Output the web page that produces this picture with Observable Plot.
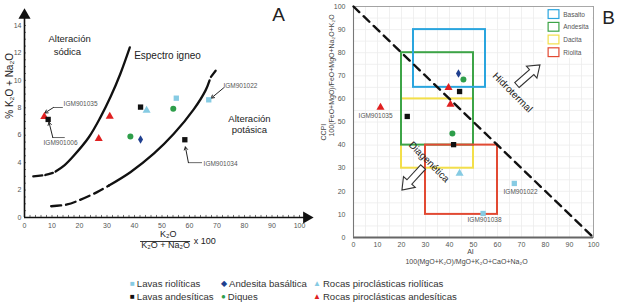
<!DOCTYPE html>
<html><head><meta charset="utf-8">
<script src="https://cdn.jsdelivr.net/npm/d3@7"></script>
<script src="https://cdn.jsdelivr.net/npm/@observablehq/plot@0.6"></script>
<style>
body{margin:0;background:#fff;font-family:"Liberation Sans",Arial,sans-serif;}
#wrap{position:relative;width:624px;height:304px;overflow:hidden;background:#fff;}
#a{position:absolute;left:0;top:0;}
#b{position:absolute;left:312px;top:0;}
.lg{position:absolute;font-size:9.6px;line-height:12px;color:#333;white-space:nowrap;}
.lg i{font-style:normal;font-size:8px;margin-right:2px;position:relative;top:-1px;}
</style></head>
<body><div id="wrap"><div id="a"></div><div id="b"></div>
<div id="legend"></div></div>
<script>
// ---------- shared categories ----------
const types = ["Lavas riolíticas","Andesita basáltica","Rocas piroclásticas riolíticas","Lavas andesíticas","Diques","Rocas piroclásticas andesíticas"];
const typeColor = ["#86cbe3","#1f3f8f","#86cbe3","#111111","#2e9e4a","#e02020"];
const typeSymbol = ["square","diamond","triangle","square","circle","triangle"];
const typeChar = ["■","◆","▲","■","●","▲"];

// ---------- panel A data ----------
const aRatio = [7.2, 8.6, 31.0, 27.0, 42.2, 44.4, 55.2, 54.1, 38.5, 42.2, 67.0, 58.3];
const aAlk   = [7.35, 7.15, 7.37, 5.74, 8.05, 7.8, 8.7, 7.93, 5.9, 5.69, 8.58, 5.67];
const aType  = [5, 3, 5, 5, 3, 2, 0, 4, 4, 1, 0, 3];
const xTicksA = [0,10,20,30,40,50,60,70,80,90,100];
const yTicksA = [0,2,4,6,8,10,12,14];
// boundary curves
const sodicDashX = [3.2, 7.6, 10.3];
const sodicDashY = [3.0, 3.1, 3.25];
const sodicX = [11.3, 14.5, 17.9, 23.4, 27.6, 31.3, 34.9, 38.3];
const sodicY = [3.35, 3.8, 4.5, 5.85, 7.3, 8.8, 10.5, 12.4];
const potDashX = [9.7, 13.1, 15.5, 19.7, 26.4, 30.7];
const potDashY = [0.82, 0.88, 0.95, 1.24, 1.85, 2.33];
const potX = [30.7, 38.5, 47.0, 54.3, 61.6, 65.8, 67.3];
const potY = [2.33, 3.3, 4.65, 6.1, 7.9, 9.25, 10.0];
const potTopX = [67.8, 69.5];
const potTopY = [10.25, 10.7];
// sample callouts
const aLabels = ["IGM901035","IGM901006","IGM901022","IGM901034"];

// ---------- panel B data ----------
const bAI   = [11.25, 43.75, 45.8, 39.6, 44.2, 40.4, 22.4, 41.2, 41.7, 44.2, 67.0, 54.0];
const bCCPI = [56.3, 71.0, 68.4, 64.9, 63.2, 57.6, 52.4, 45.0, 40.2, 27.7, 23.4, 10.4];
const bType = [5, 1, 4, 5, 3, 5, 3, 4, 3, 2, 0, 0];
const rocks = ["Basalto","Andesita","Dacita","Riolita"];
const rockColor = ["#2aa5de","#3da447","#f3df4a","#e24a33"];
const rockX1 = [25, 20, 20, 30], rockX2 = [55, 50, 50, 60];
const rockY1 = [65, 40, 30, 10], rockY2 = [90, 80, 60, 40];
const bLabels = ["IGM901035","IGM901022","IGM901038"];
const ticksB = [0,10,20,30,40,50,60,70,80,90,100];

const font = "'Liberation Sans', Arial, sans-serif";
const idx = n => d3.range(n);

function hollowArrow(x1, y1, x2, y2, sw, hw, hl) {
  return (index, scales) => {
    const X1 = scales.x(x1), Y1 = scales.y(y1), X2 = scales.x(x2), Y2 = scales.y(y2);
    const dx = X2 - X1, dy = Y2 - Y1, L = Math.hypot(dx, dy);
    const ux = dx / L, uy = dy / L, nx = -uy, ny = ux;
    const bx = X2 - ux * hl, by = Y2 - uy * hl;
    const p = [[X1+nx*sw,Y1+ny*sw],[bx+nx*sw,by+ny*sw],[bx+nx*hw,by+ny*hw],[X2,Y2],
               [bx-nx*hw,by-ny*hw],[bx-nx*sw,by-ny*sw],[X1-nx*sw,Y1-ny*sw]];
    return d3.create("svg:path").attr("d","M"+p.map(q=>q.join(",")).join("L")+"Z")
      .attr("fill","#fff").attr("stroke","#333").attr("stroke-width",1.1).node();
  };
}

// ---------- Panel A ----------
const A = Plot.plot({
  width: 312, height: 262, marginLeft: 24, marginRight: 13, marginTop: 25, marginBottom: 45,
  x: {domain: [0, 100], axis: null},
  y: {domain: [0, 14], axis: null},
  style: {fontFamily: font, background: "transparent", overflow: "visible"},
  marks: [
    Plot.ruleX(d3.range(0, 101, 2), {y1: 0, y2: 0.15, stroke: "#333", strokeWidth: 0.7}),
    Plot.ruleY(d3.range(0, 14.01, 0.5), {x1: 0, x2: 0.7, stroke: "#333", strokeWidth: 0.7}),
    Plot.ruleY([0], {x1: 0, x2: 103, stroke: "#111", strokeWidth: 1.6}),
    Plot.ruleX([0], {y1: 0, y2: 14.6, stroke: "#111", strokeWidth: 1.6}),
    Plot.dot([0], {x: 102.6, y: 0, symbol: "triangle", r: 4.5, fill: "#111", rotate: 90}),
    Plot.dot([0], {x: 0, y: 14.75, symbol: "triangle", r: 4.5, fill: "#111"}),
    Plot.text(xTicksA, {x: d => d, frameAnchor: "bottom", dy: 10, fontSize: 7, fill: "#555"}),
    Plot.text(yTicksA, {y: d => d, frameAnchor: "left", dx: -3, textAnchor: "end", fontSize: 7, fill: "#555"}),
    Plot.text(["% K₂O + Na₂O"], {frameAnchor: "left", y: 7.2, dx: -15, rotate: -90, fontSize: 10, fill: "#222"}),
    Plot.text(["K₂O"], {x: 52.3, frameAnchor: "bottom", dy: 19, fontSize: 9, fill: "#222"}),
    Plot.ruleY([-1.75], {x1: 42.2, x2: 60.4, stroke: "#222", strokeWidth: 0.9}),
    Plot.text(["K₂O + Na₂O"], {x: 51.3, frameAnchor: "bottom", dy: 30, fontSize: 9, fill: "#222"}),
    Plot.text(["x 100"], {x: 61.5, frameAnchor: "bottom", dy: 26, textAnchor: "start", fontSize: 9, fill: "#222"}),
    Plot.line(idx(sodicDashX.length), {x: i => sodicDashX[i], y: i => sodicDashY[i], stroke: "#111", strokeWidth: 2.3, strokeDasharray: "9,3", curve: "catmull-rom"}),
    Plot.line(idx(sodicX.length), {x: i => sodicX[i], y: i => sodicY[i], stroke: "#111", strokeWidth: 2.3, curve: "catmull-rom"}),
    Plot.line(idx(potDashX.length), {x: i => potDashX[i], y: i => potDashY[i], stroke: "#111", strokeWidth: 2.3, strokeDasharray: "10,5", curve: "catmull-rom"}),
    Plot.line(idx(potX.length), {x: i => potX[i], y: i => potY[i], stroke: "#111", strokeWidth: 2.3, curve: "catmull-rom"}),
    Plot.line(idx(potTopX.length), {x: i => potTopX[i], y: i => potTopY[i], stroke: "#111", strokeWidth: 2.3}),
    Plot.text(["Alteración"], {x: 16.4, y: 13.0, fontSize: 9.5, fill: "#222"}),
    Plot.text(["sódica"], {x: 15.6, y: 12.1, fontSize: 9.5, fill: "#222"}),
    Plot.text(["Espectro igneo"], {x: 52, y: 11.8, fontSize: 10, fill: "#222"}),
    Plot.text(["Alteración"], {x: 81.8, y: 7.2, fontSize: 9.5, fill: "#222"}),
    Plot.text(["potásica"], {x: 81.8, y: 6.4, fontSize: 9.5, fill: "#222"}),
    Plot.text(["A"], {x: 92.4, y: 14.75, fontSize: 19, fill: "#222"}),
    Plot.line([[13.8,8.02],[10.5,8.02]], {stroke: "#444", strokeWidth: 0.8}),
    Plot.arrow([0], {x1: 10.5, y1: 8.02, x2: 7.4, y2: 7.62, stroke: "#222", strokeWidth: 1, headLength: 5}),
    Plot.line([[14.5,5.83],[10.3,5.83]], {stroke: "#444", strokeWidth: 0.8}),
    Plot.arrow([0], {x1: 10.3, y1: 5.83, x2: 8.9, y2: 6.95, stroke: "#222", strokeWidth: 1, headLength: 5}),
    Plot.arrow([0], {x1: 72.4, y1: 9.45, x2: 67.9, y2: 8.7, stroke: "#222", strokeWidth: 1, headLength: 5}),
    Plot.line([[64.4,4.0],[59.6,4.0]], {stroke: "#444", strokeWidth: 0.8}),
    Plot.arrow([0], {x1: 59.6, y1: 4.0, x2: 58.5, y2: 5.15, stroke: "#222", strokeWidth: 1, headLength: 5}),
    Plot.text(aLabels, {x: [20.4, 13.1, 78.5, 71.3], y: [8.31, 5.47, 9.63, 3.94], fontSize: 6.5, fill: "#555"}),
    Plot.dot(idx(aRatio.length), {x: i => aRatio[i], y: i => aAlk[i], symbol: i => typeSymbol[aType[i]], fill: i => typeColor[aType[i]], r: i => aType[i] === 1 ? 2.6 : 3.4}),
  ]
});
document.getElementById("a").appendChild(A);

// ---------- Panel B ----------
const B = Plot.plot({
  width: 312, height: 276, marginLeft: 41, marginRight: 31, marginTop: 6, marginBottom: 39,
  x: {domain: [0, 100], axis: null},
  y: {domain: [0, 100], axis: null},
  style: {fontFamily: font, background: "transparent", overflow: "visible"},
  marks: [
    Plot.ruleX(d3.range(5, 100, 5), {stroke: "#ececec", strokeWidth: 0.8}),
    Plot.ruleY(d3.range(5, 100, 5), {stroke: "#ececec", strokeWidth: 0.8}),
    Plot.frame({stroke: "#9a9a9a", strokeWidth: 0.9}),
    Plot.ruleY([0], {stroke: "#666", strokeWidth: 1.8}),
    Plot.ruleX([0], {stroke: "#777", strokeWidth: 1.1}),
    Plot.text(ticksB, {x: d => d, frameAnchor: "bottom", dy: 9, fontSize: 7, fill: "#555"}),
    Plot.text(ticksB, {y: d => d, frameAnchor: "left", dx: -8, textAnchor: "end", fontSize: 7, fill: "#555"}),
    Plot.text(["AI"], {x: 48.75, frameAnchor: "bottom", dy: 16, fontSize: 7, fill: "#444"}),
    Plot.text(["100(MgO+K₂O)/MgO+K₂O+CaO+Na₂O"], {x: 47.1, frameAnchor: "bottom", dy: 26, fontSize: 7, fill: "#444"}),
    Plot.text(["CCPI"], {y: 42, frameAnchor: "left", dx: -30, rotate: -90, fontSize: 7, fill: "#444"}),
    Plot.text(["100(FeO+MgO)/FeO+MgO+Na₂O+K₂O"], {y: 43.7, frameAnchor: "left", dx: -22, rotate: -90, fontSize: 7, fill: "#444"}),
    Plot.rect([2, 1, 3, 0], {x1: i => rockX1[i], x2: i => rockX2[i], y1: i => rockY1[i], y2: i => rockY2[i], fill: "none", stroke: i => rockColor[i], strokeWidth: 2}),
    Plot.line([[0,100],[100,0]], {stroke: "#111", strokeWidth: 2.4, strokeDasharray: "8,6"}),
    hollowArrow(68.3, 65.8, 77.9, 74.5, 3.3, 8, 11),
    hollowArrow(29.2, 30.3, 20.4, 20.3, 3.3, 8, 11),
    Plot.text(["Hidrotermal"], {x: 66.25, y: 62.8, rotate: 45, fontSize: 10, fill: "#222"}),
    Plot.text(["Diagenética"], {x: 31.5, y: 32.7, rotate: 45, fontSize: 10, fill: "#222"}),
    Plot.rect([0], {x1: 79.3, x2: 99.6, y1: 77.6, y2: 99.6, fill: "#fff"}),
    Plot.rect(idx(rocks.length), {x1: 81.3, x2: 85.8, y1: i => 96.5 - i*5.5 - 1.9, y2: i => 96.5 - i*5.5 + 1.9, fill: "#fff", stroke: i => rockColor[i], strokeWidth: 1.2}),
    Plot.text(rocks, {x: 87.4, y: (d, i) => 96.5 - i*5.5, textAnchor: "start", fontSize: 6.5, fill: "#555"}),
    Plot.text(["B"], {x: 106.3, y: 95.2, fontSize: 19, fill: "#222"}),
    Plot.dot(idx(bAI.length), {x: i => bAI[i], y: i => bCCPI[i], symbol: i => typeSymbol[bType[i]], fill: i => typeColor[bType[i]], r: i => bType[i] === 1 ? 2.4 : 3.1}),
    Plot.text(bLabels, {x: [9.2, 69.6, 54.6], y: [52.8, 19.9, 7.4], fontSize: 6.5, fill: "#555"}),
  ]
});
document.getElementById("b").appendChild(B);

// ---------- bottom legend ----------
const legPos = [[130,278],[221,278],[313,278],[130,291],[221,291],[313,291]];
const lg = document.getElementById("legend");
types.forEach((t, i) => {
  const s = document.createElement("span");
  s.className = "lg";
  s.style.left = legPos[i][0] + "px";
  s.style.top = legPos[i][1] + "px";
  const m = document.createElement("i");
  m.style.color = typeColor[i];
  m.textContent = typeChar[i];
  s.appendChild(m);
  s.appendChild(document.createTextNode(t));
  lg.appendChild(s);
});
</script></body></html>
